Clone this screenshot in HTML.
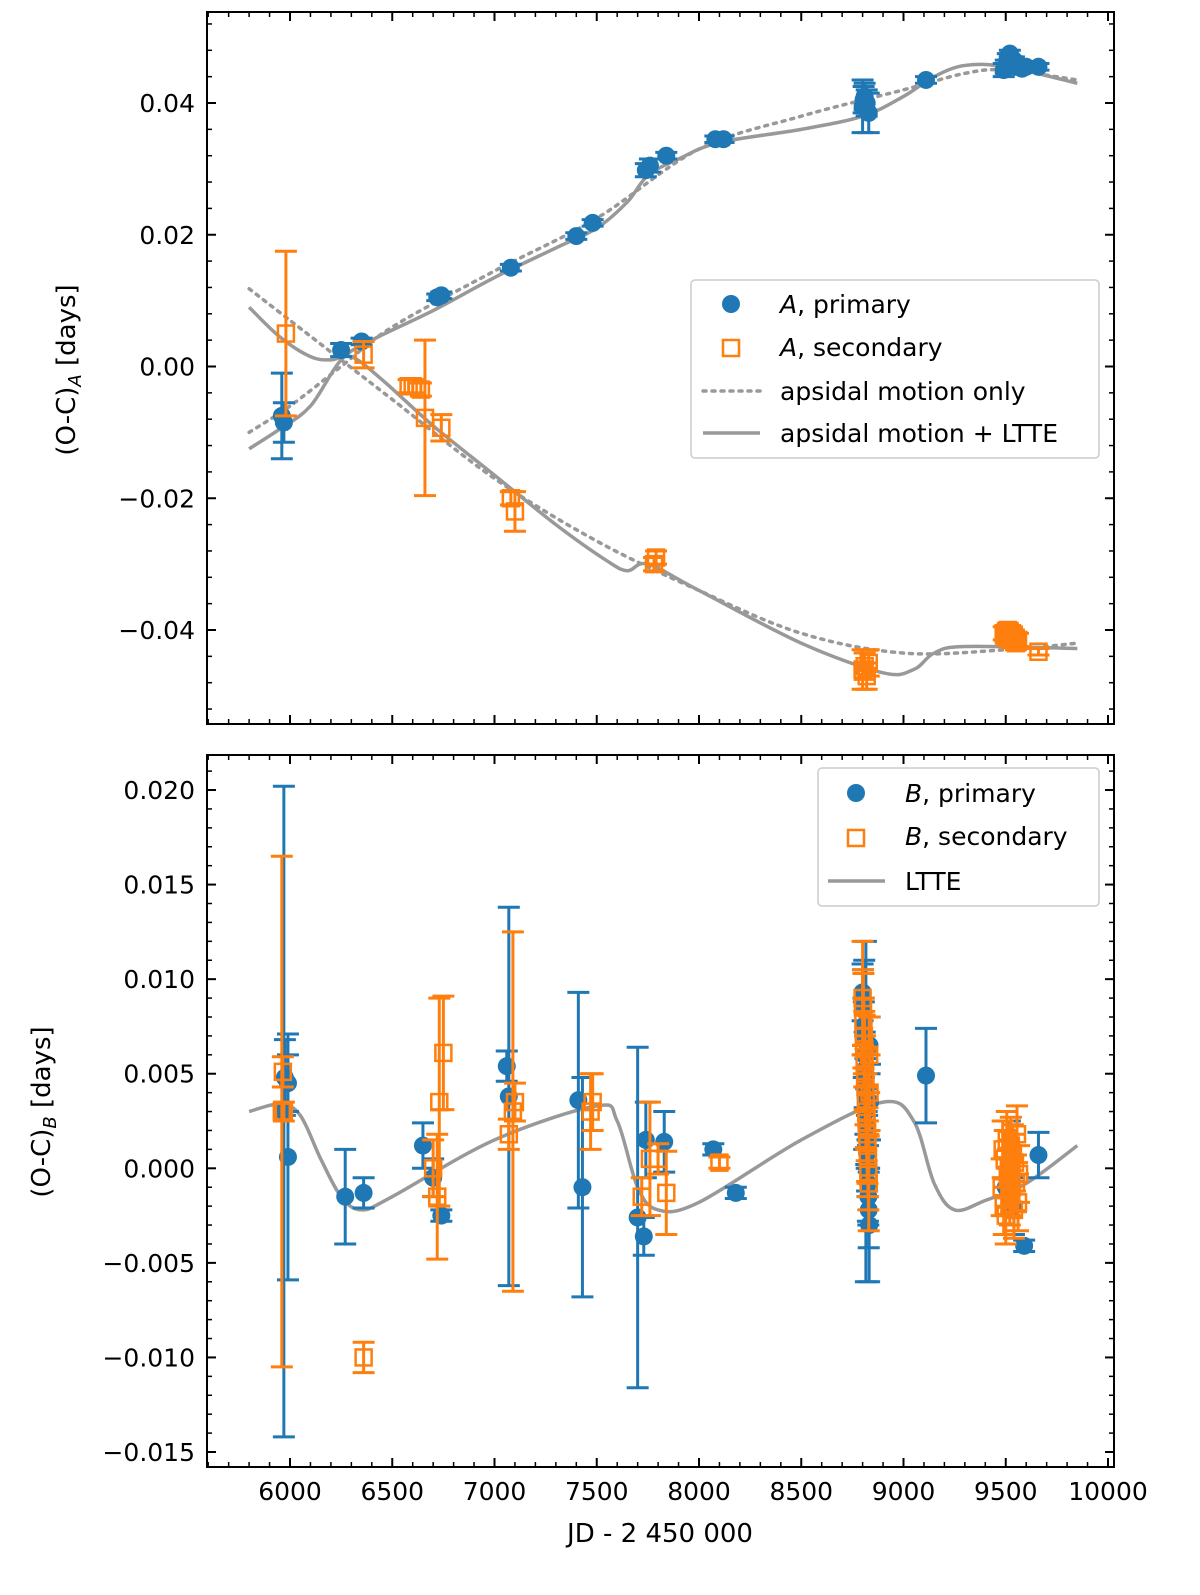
<!DOCTYPE html>
<html><head><meta charset="utf-8"><style>
html,body{margin:0;padding:0;background:#fff;}
svg{display:block;font-family:"DejaVu Sans","Liberation Sans",sans-serif;}
</style></head><body>
<svg id="fig" width="1200" height="1595" viewBox="0 0 1200 1595" xmlns="http://www.w3.org/2000/svg"></svg>
<script>
// ---------- DATA ----------
const xTicks=[6000,6500,7000,7500,8000,8500,9000,9500,10000];
const topYTicks=[0.04,0.02,0.00,-0.02,-0.04];
const topYLabels=["0.04","0.02","0.00","\u22120.02","\u22120.04"];
const botYTicks=[0.020,0.015,0.010,0.005,0.000,-0.005,-0.010,-0.015];
const botYLabels=["0.020","0.015","0.010","0.005","0.000","\u22120.005","\u22120.010","\u22120.015"];

// Top panel
const aPrimX=[5960,5970,6250,6350,6720,6740,7080,7400,7480,7740,7760,7840,8080,8120,8800,8805,8810,8820,8830,9110,9490,9500,9510,9520,9530,9540,9550,9560,9580,9600,9660];
const aPrimY=[-0.0075,-0.0085,0.0025,0.0038,0.0105,0.0108,0.015,0.0198,0.0218,0.0298,0.0305,0.032,0.0345,0.0345,0.0395,0.0405,0.041,0.040,0.0385,0.0435,0.045,0.0455,0.047,0.0475,0.046,0.0465,0.0455,0.0458,0.0452,0.0455,0.0455];
const aPrimE=[0.0065,0.003,0.001,0.0005,0.0005,0.0005,0.0005,0.0005,0.0005,0.001,0.001,0.0005,0.0005,0.0005,0.004,0.002,0.002,0.002,0.003,0.0005,0.001,0.001,0.0005,0.0005,0.001,0.0005,0.0005,0.0005,0.0005,0.0005,0.0005];
const aSecX=[5980,6360,6580,6600,6640,6660,6740,7080,7100,7780,7790,8800,8810,8820,8830,9490,9500,9510,9520,9530,9540,9550,9560,9660];
const aSecY=[0.005,0.0018,-0.003,-0.003,-0.0035,-0.0078,-0.0093,-0.020,-0.022,-0.030,-0.029,-0.046,-0.0455,-0.047,-0.045,-0.0405,-0.041,-0.040,-0.0415,-0.0405,-0.041,-0.042,-0.0415,-0.0433];
const aSecE=[0.0125,0.002,0.001,0.001,0.001,0.0118,0.002,0.001,0.003,0.001,0.001,0.003,0.002,0.002,0.002,0.001,0.001,0.001,0.001,0.001,0.001,0.001,0.001,0.0005];
const apsPrimX=[5800,6000,6250,6500,7000,7500,8000,8500,9000,9300,9500,9850];
const apsPrimY=[-0.010,-0.006,0.000,0.006,0.0145,0.0225,0.033,0.038,0.042,0.0445,0.045,0.0435];
const ltPrimX=[5800,5950,6100,6250,6400,6700,7000,7300,7500,7650,7750,7900,8100,8500,8800,9000,9150,9300,9500,9850];
const ltPrimY=[-0.0125,-0.0095,-0.006,0.001,0.004,0.0085,0.0135,0.018,0.021,0.025,0.029,0.0315,0.034,0.036,0.038,0.041,0.044,0.0457,0.0455,0.043];
const apsSecX=[5800,6000,6250,6500,7000,7500,8000,8500,9000,9500,9850];
const apsSecY=[0.0118,0.007,0.001,-0.005,-0.017,-0.0265,-0.034,-0.0405,-0.0435,-0.043,-0.042];
const ltSecX=[5800,5950,6100,6200,6300,6450,6700,7000,7300,7550,7650,7750,8000,8500,8900,9050,9150,9300,9850];
const ltSecY=[0.009,0.0045,0.0015,0.001,0.0015,-0.002,-0.009,-0.0165,-0.024,-0.0295,-0.031,-0.030,-0.034,-0.042,-0.0465,-0.046,-0.0435,-0.0425,-0.0428];

// Bottom panel
const bPrimX=[5970,5975,5990,5990,6270,6360,6650,6700,6740,7060,7070,7410,7430,7700,7730,7740,7830,8070,8180,
  8800,8802,8804,8806,8808,8810,8812,8814,8816,8818,8820,8822,8824,8826,8828,8830,8832,8834,8836,
  9110,9500,9520,9540,9590,9660];
const bPrimY=[0.003,0.0048,0.0045,0.0006,-0.0015,-0.0013,0.0012,-0.0005,-0.0025,0.0054,0.0038,0.0036,-0.001,-0.0026,-0.0036,0.0015,0.0014,0.001,-0.0013,
  0.0093,0.0085,0.0075,0.0068,0.006,0.0052,0.0045,0.0038,0.003,0.0022,0.0015,0.0008,0.0,-0.0008,-0.0015,-0.0022,-0.003,0.0065,0.0035,
  0.0049,-0.001,0.001,-0.002,-0.0041,0.0007];
const bPrimE=[0.0172,0.002,0.0015,0.0065,0.0025,0.0008,0.0012,0.001,0.0003,0.0008,0.01,0.0057,0.0058,0.009,0.001,0.002,0.0016,0.0003,0.0003,
  0.0015,0.002,0.0015,0.002,0.005,0.002,0.0015,0.002,0.009,0.002,0.0015,0.002,0.0015,0.002,0.0015,0.002,0.003,0.0015,0.002,
  0.0025,0.0015,0.0015,0.0015,0.0003,0.0012];
const bSecX=[5960,5965,5970,6360,6700,6720,6730,6750,7070,7090,7100,7470,7480,7720,7760,7800,7840,8100,
  8800,8802,8804,8806,8808,8810,8812,8814,8816,8818,8820,8822,8824,8826,8828,8830,8832,8834,
  9480,9485,9490,9495,9500,9505,9510,9515,9520,9525,9530,9535,9540,9545,9550,9555,9560,9565];
const bSecY=[0.003,0.0051,0.003,-0.010,0.0,-0.0015,0.0035,0.0061,0.0018,0.003,0.0035,0.003,0.0035,-0.0015,0.0005,0.0005,-0.0013,0.0003,
  0.009,0.0085,0.0078,0.007,0.0063,0.0056,0.005,0.0043,0.0036,0.003,0.0024,0.0018,0.0012,0.0005,-0.0002,-0.0008,0.006,0.004,
  -0.001,0.001,-0.002,0.0005,-0.0025,0.0015,-0.0005,0.0,-0.0015,0.0012,-0.001,0.0008,-0.0022,0.0003,-0.0008,0.0018,-0.0018,-0.0003];
const bSecE=[0.0135,0.0008,0.0005,0.0008,0.0015,0.0033,0.0055,0.003,0.0008,0.0095,0.001,0.002,0.0015,0.001,0.003,0.0008,0.0022,0.0003,
  0.003,0.002,0.0025,0.002,0.002,0.0025,0.002,0.002,0.0025,0.002,0.002,0.0025,0.002,0.002,0.002,0.0025,0.002,0.002,
  0.0015,0.0015,0.0015,0.0015,0.0015,0.0015,0.0015,0.0015,0.0015,0.0015,0.0015,0.0015,0.0015,0.0015,0.0015,0.0015,0.0015,0.0015];
const ltteX=[5800,5950,6050,6150,6250,6350,6500,7000,7500,7600,7700,7800,8000,8500,8900,9050,9150,9250,9400,9600,9850];
const ltteY=[0.003,0.0034,0.0028,0.0005,-0.0015,-0.0022,-0.0015,0.0015,0.0033,0.0025,-0.001,-0.0022,-0.0018,0.0015,0.0035,0.0025,-0.0008,-0.0022,-0.0017,-0.0008,0.0012];

// ---------- SCALES ----------
const L=207,R=1114;
function X(v){return 290+(v-6000)*0.2045;}
function YT(v){return 366.5-v*6587.5;}
function YB(v){return 1168.3-v*18914;}
const NS="http://www.w3.org/2000/svg";
const svg=document.getElementById('fig');
function mk(tag,attrs,parent){const e=document.createElementNS(NS,tag);for(const k in attrs)e.setAttribute(k,attrs[k]);(parent||svg).appendChild(e);return e;}
const BLUE="#1f77b4",ORANGE="#ff7f0e",GRAY="#999999";

function panel(name,top,bot,Y,yt,yl,minorStep,yMin,yMax){
  const g=mk('g',{});
  
  
  const cp=mk('clipPath',{id:'clip-'+name},g);
  mk('rect',{x:L,y:top,width:R-L,height:bot-top},cp);
  const plot=mk('g',{'clip-path':'url(#clip-'+name+')'},g);
  
  
  for(let v=5600;v<=10000;v+=100){
    const x=X(v); if(x<L||x>R)continue;
    const major=v%500===0, len=major?9:5;
    mk('line',{x1:x,y1:bot,x2:x,y2:bot-len,stroke:'#000','stroke-width':major?2:1.5},g);
    mk('line',{x1:x,y1:top,x2:x,y2:top+len,stroke:'#000','stroke-width':major?2:1.5},g);
  }
  for(let i=Math.ceil(yMin/minorStep);i<=Math.floor(yMax/minorStep);i++){
    const v=i*minorStep,y=Y(v);
    mk('line',{x1:L,y1:y,x2:L+5,y2:y,stroke:'#000','stroke-width':1.5},g);
    mk('line',{x1:R,y1:y,x2:R-5,y2:y,stroke:'#000','stroke-width':1.5},g);
  }
  yt.forEach((v,i)=>{
    const y=Y(v);
    mk('line',{x1:L,y1:y,x2:L+9,y2:y,stroke:'#000','stroke-width':2},g);
    mk('line',{x1:R,y1:y,x2:R-9,y2:y,stroke:'#000','stroke-width':2},g);
    const t=mk('text',{x:L-12,y:y+9,'font-size':25,'text-anchor':'end'},g);
    
    
    t.textContent=yl[i];
  });
  return {g,plot};
}
function line(parent,xs,ys,Y,dash,name){
  const d=xs.map((x,i)=>[X(x),Y(ys[i])]);
  let p='M'+d[0][0]+','+d[0][1];
  for(let i=0;i<d.length-1;i++){
    const p0=d[Math.max(0,i-1)],p1=d[i],p2=d[i+1],p3=d[Math.min(d.length-1,i+2)];
    p+=' C'+(p1[0]+(p2[0]-p0[0])/6)+','+(p1[1]+(p2[1]-p0[1])/6)+' '+(p2[0]-(p3[0]-p1[0])/6)+','+(p2[1]-(p3[1]-p1[1])/6)+' '+p2[0]+','+p2[1];
  }
  const e=mk('path',{d:p,fill:'none',stroke:GRAY,'stroke-width':3.5,'stroke-dasharray':dash?'3,6':'none','stroke-linecap':dash?'round':'butt'},parent);
  
  
}
function points(parent,xs,ys,es,Y,color,sq,name){
  xs.forEach((xv,i)=>{
    const x=X(xv),y=Y(ys[i]),y1=Y(ys[i]+es[i]),y2=Y(ys[i]-es[i]);
    const g=mk('g',{},parent);
    
    
    mk('line',{x1:x,y1:y1,x2:x,y2:y2,stroke:color,'stroke-width':3},g);
    mk('line',{x1:x-11,y1:y1,x2:x+11,y2:y1,stroke:color,'stroke-width':3},g);
    mk('line',{x1:x-11,y1:y2,x2:x+11,y2:y2,stroke:color,'stroke-width':3},g);
    if(sq) mk('rect',{x:x-8,y:y-8,width:16,height:16,fill:'none',stroke:color,'stroke-width':2.5},g);
    else mk('circle',{cx:x,cy:y,r:9,fill:color},g);
  });
}

const T=panel('top-panel',12,724,YT,topYTicks,topYLabels,0.004,-0.054,0.053);
line(T.plot,apsPrimX,apsPrimY,YT,true,'apsidal-primary-curve');
line(T.plot,apsSecX,apsSecY,YT,true,'apsidal-secondary-curve');
line(T.plot,ltPrimX,ltPrimY,YT,false,'ltte-primary-curve');
line(T.plot,ltSecX,ltSecY,YT,false,'ltte-secondary-curve');
points(T.plot,aPrimX,aPrimY,aPrimE,YT,BLUE,false,'a-primary-point');
points(T.plot,aSecX,aSecY,aSecE,YT,ORANGE,true,'a-secondary-point');
mk('rect',{x:L,y:12,width:R-L,height:712,fill:'none',stroke:'#000','stroke-width':2},T.g);

const B=panel('bottom-panel',755,1467,YB,botYTicks,botYLabels,0.001,-0.0158,0.0219);
line(B.plot,ltteX,ltteY,YB,false,'ltte-curve');
points(B.plot,bPrimX,bPrimY,bPrimE,YB,BLUE,false,'b-primary-point');
points(B.plot,bSecX,bSecY,bSecE,YB,ORANGE,true,'b-secondary-point');
mk('rect',{x:L,y:755,width:R-L,height:712,fill:'none',stroke:'#000','stroke-width':2},B.g);

xTicks.forEach(v=>{
  const t=mk('text',{x:X(v),y:1500,'font-size':25,'text-anchor':'middle'});
  
  
  t.textContent=v;
});
</script>
<svg style="position:absolute;left:0;top:0" width="1200" height="1595">
  <text x="660" y="1542" font-size="26" text-anchor="middle" font-family="DejaVu Sans, sans-serif">JD - 2 450 000</text>
  <text transform="translate(75,370) rotate(-90)" font-size="26" text-anchor="middle" font-family="DejaVu Sans, sans-serif">(O-C)<tspan font-size="18" font-style="italic" dy="6">A</tspan><tspan dy="-6"> [days]</tspan></text>
  <text transform="translate(50,1112) rotate(-90)" font-size="26" text-anchor="middle" font-family="DejaVu Sans, sans-serif">(O-C)<tspan font-size="18" font-style="italic" dy="6">B</tspan><tspan dy="-6"> [days]</tspan></text>
  <g font-family="DejaVu Sans, sans-serif" font-size="25">
    <rect x="691" y="280" width="408" height="178" rx="4" fill="#fff" fill-opacity="0.85" stroke="#ccc" stroke-width="1.5"/>
    <circle cx="731" cy="304" r="9" fill="#1f77b4"/>
    <text x="780" y="313"><tspan font-style="italic">A</tspan>, primary</text>
    <rect x="723" y="340" width="16" height="16" fill="none" stroke="#ff7f0e" stroke-width="2.5"/>
    <text x="780" y="356"><tspan font-style="italic">A</tspan>, secondary</text>
    <line x1="703" y1="391" x2="760" y2="391" stroke="#999" stroke-width="3.5" stroke-dasharray="3,6" stroke-linecap="round"/>
    <text x="780" y="400">apsidal motion only</text>
    <line x1="703" y1="433" x2="760" y2="433" stroke="#999" stroke-width="3.5"/>
    <text x="780" y="442">apsidal motion + LTTE</text>
  </g>
  <g font-family="DejaVu Sans, sans-serif" font-size="25">
    <rect x="818" y="768" width="281" height="138" rx="4" fill="#fff" fill-opacity="0.85" stroke="#ccc" stroke-width="1.5"/>
    <circle cx="856" cy="793" r="9" fill="#1f77b4"/>
    <text x="905" y="802"><tspan font-style="italic">B</tspan>, primary</text>
    <rect x="848" y="830" width="16" height="16" fill="none" stroke="#ff7f0e" stroke-width="2.5"/>
    <text x="905" y="845"><tspan font-style="italic">B</tspan>, secondary</text>
    <line x1="828" y1="881" x2="885" y2="881" stroke="#999" stroke-width="3.5"/>
    <text x="905" y="890">LTTE</text>
  </g>
</svg>
</body></html>
